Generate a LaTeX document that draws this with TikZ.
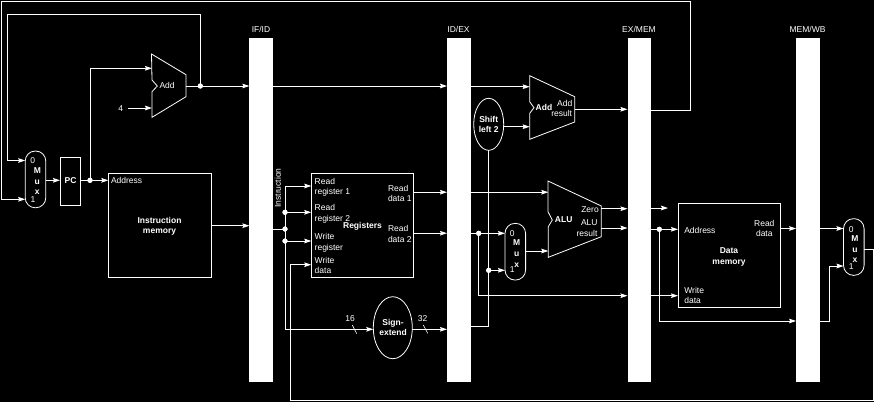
\documentclass[tikz,border=0pt]{standalone}
\usepackage{fontspec}
\setmainfont{Liberation Sans}
\usetikzlibrary{arrows.meta,shapes.geometric,calc}
\tikzset{
  wire/.style={draw=white,line width=0.9pt},
  arr/.style={wire,-{Stealth[length=7pt,width=4.6pt,inset=1pt]}},
  unit/.style={draw=white,line width=0.8pt,fill=black},
  boxnode/.style={unit,rectangle,inner sep=0pt,outer sep=0pt},
  ovalnode/.style={unit,ellipse,inner sep=0pt,outer sep=0pt},
  muxnode/.style={boxnode,minimum width=20.6pt,rounded corners=10pt},
  bar/.style={fill=white,rectangle,inner sep=0pt,outer sep=0pt,minimum width=23.6pt,minimum height=343.5pt},
  dotnode/.style={circle,fill=white,inner sep=0pt,outer sep=0pt,minimum size=5pt},
  lab/.style={text=white,inner sep=0pt,outer sep=0pt,font=\fontsize{8.5}{10}\selectfont,text height=6pt,text depth=0pt},
  labl/.style={lab,anchor=west},
  labb/.style={lab,font=\fontsize{8.5}{10}\bfseries\selectfont},
}
\begin{document}
\begin{tikzpicture}[x=1pt,y=-1pt]
\useasboundingbox (0,0) rectangle (874,402);
\fill[black] (0,0) rectangle (874,402);
% pipeline registers
\node[bar] (ifid) at (261.2,210.2) {};
\node[bar] (idex) at (458.8,210.2) {};
\node[bar] (exmem) at (639.3,210.2) {};
\node[bar] (memwb) at (807.9,210.2) {};
\node[lab] (tifid) at (261,29.5) {IF/ID};
\node[lab] (tidex) at (458.5,29.5) {ID/EX};
\node[lab] (texmem) at (639,29.5) {EX/MEM};
\node[lab] (tmemwb) at (807.5,29.5) {MEM/WB};
% boxes
\node[muxnode,minimum height=56.7pt] (muxa) at (35.5,179.4) {};
\node[boxnode,minimum width=20.7pt,minimum height=48.4pt] (pc) at (70.4,181.5) {};
\node[boxnode,minimum width=102.7pt,minimum height=104pt] (imem) at (159.7,225.3) {};
\node[boxnode,minimum width=102.4pt,minimum height=104pt] (regs) at (362.5,225.3) {};
\node[boxnode,minimum width=102pt,minimum height=104pt] (dmem) at (729,255.7) {};
\node[muxnode,minimum height=56.7pt] (muxb) at (515.3,251.7) {};
\node[muxnode,minimum height=56.7pt] (muxc) at (853.8,247) {};
\node[ovalnode,minimum width=30pt,minimum height=52pt] (shift) at (488.7,124.3) {};
\node[ovalnode,minimum width=39pt,minimum height=62pt] (sext) at (392.8,327.7) {};
% adders and ALU
\draw[unit] (151.5,54) -- (186,74.7) -- (186,96.7) -- (152,117.3) -- (152,91.7) -- (157.3,86) -- (152,80) -- cycle;
\draw[unit] (529.7,75.7) -- (574.7,96.7) -- (574.7,122) -- (529.7,139.3) -- (529.7,113.3) -- (534,107.7) -- (529.7,101.7) -- cycle;
\draw[unit] (548,181) -- (601.3,206) -- (601.3,236.7) -- (548.3,257.3) -- (548.3,226.7) -- (552.3,220) -- (548,211.7) -- cycle;
% free end points
\coordinate (addout) at (186,86);
\coordinate (addina) at (152,68.3);
\coordinate (addinb) at (152,108);
\coordinate (four) at (128,108);
\coordinate (addbin) at (529.7,86.7);
\coordinate (addbsh) at (529.7,126.7);
\coordinate (addbout) at (574.7,109.3);
\coordinate (aluina) at (548.3,192.2);
\coordinate (aluinb) at (548.3,251);
\coordinate (aluz) at (601.3,208.7);
\coordinate (alur) at (601.3,228);
% junctions
\node[dotnode] (jadd) at (200.3,86) {};
\node[dotnode] (jpc) at (90,180.3) {};
\node[dotnode] (jins) at (285,229) {};
\node[dotnode] (jrr) at (285,212.3) {};
\node[dotnode] (jwr) at (285,241) {};
\node[dotnode] (jrd) at (478.7,233.3) {};
\node[dotnode] (jsx) at (488.7,270.3) {};
\node[dotnode] (jres) at (659.3,229.3) {};
% fetch
\coordinate (loopa) at (1,1);
\coordinate (loopb) at (690,1);
\coordinate (loopc) at (690,110.5);
\coordinate (loopd) at (1,199.3);
\coordinate (innera) at (200.3,14);
\coordinate (innerb) at (7.3,14);
\coordinate (innerc) at (7.3,160.5);
\draw[wire] (exmem.east |- loopc) -- (loopc) -- (loopb) -- (loopa) -- (loopd);
\draw[arr] (loopd) -- (muxa.west |- loopd);
\draw[wire] (jadd.center) -- (innera) -- (innerb) -- (innerc);
\draw[arr] (innerc) -- (muxa.west |- innerc);
\draw[arr] (muxa.east |- jpc) -- (pc.west |- jpc);
\draw[wire] (pc.east |- jpc) -- (jpc.center);
\draw[arr] (jpc.center) -- (imem.west |- jpc);
\draw[wire] (jpc.center) -- (jpc |- addina);
\draw[arr] (jpc |- addina) -- (addina);
\node[lab] (tfour) at (120.7,108) {4};
\draw[arr] (four) -- (addinb);
\draw[wire] (addout) -- (jadd.center);
\draw[arr] (jadd.center) -- (ifid.west |- jadd);
\draw[arr] (ifid.east |- jadd) -- (idex.west |- jadd);
\coordinate (imemout) at (imem.east |- 0,225.7);
\draw[arr] (imemout) -- (ifid.west |- imemout);
% decode
\draw[wire] (ifid.east |- jins) -- (jins.center);
\coordinate (ita) at (285,186);
\coordinate (itb) at (285,329.3);
\draw[wire] (ita) -- (itb);
\draw[arr] (ita) -- (regs.west |- ita);
\draw[arr] (jrr.center) -- (regs.west |- jrr);
\draw[arr] (jwr.center) -- (regs.west |- jwr);
\draw[arr] (itb) -- (sext.west |- itb);
\coordinate (sxout) at (412.3,329.3);
\draw[arr] (sxout) -- (idex.west |- sxout);
\coordinate (slasha) at (352.3,325);
\coordinate (slashb) at (356.7,333.7);
\coordinate (slashc) at (423.3,325);
\coordinate (slashd) at (427.7,333.3);
\draw[white,line width=0.6pt] (slasha) -- (slashb);
\draw[white,line width=0.6pt] (slashc) -- (slashd);
\node[lab] (t16) at (350,318.7) {16};
\node[lab] (t32) at (422.5,318.7) {32};
\coordinate (rda) at (regs.east |- 0,192.2);
\coordinate (rdb) at (regs.east |- 0,233.2);
\draw[arr] (rda) -- (idex.west |- rda);
\draw[arr] (rdb) -- (idex.west |- rdb);
% execute
\draw[arr] (idex.east |- addbin) -- (addbin);
\draw[arr] (shift.east |- addbsh) -- (addbsh);
\coordinate (shin) at (488.7,326.7);
\draw[wire] (shift.south) -- (shin) -- (idex.east |- shin);
\draw[arr] (idex.east |- aluina) -- (aluina);
\draw[wire] (idex.east |- jrd) -- (jrd.center);
\draw[arr] (jrd.center) -- (muxb.west |- jrd);
\draw[arr] (jsx.center) -- (muxb.west |- jsx);
\coordinate (fwd) at (478.7,295.7);
\draw[wire] (jrd.center) -- (fwd);
\draw[arr] (fwd) -- (exmem.west |- fwd);
\draw[arr] (muxb.east |- aluinb) -- (aluinb);
\draw[arr] (addbout) -- (exmem.west |- addbout);
\draw[arr] (aluz) -- (exmem.west |- aluz);
\draw[arr] (alur) -- (exmem.west |- alur);
% memory
\coordinate (zout) at (668,208);
\draw[arr] (exmem.east |- zout) -- (zout);
\draw[wire] (exmem.east |- jres) -- (jres.center);
\draw[arr] (jres.center) -- (dmem.west |- jres);
\coordinate (fwdb) at (659.3,321);
\draw[wire] (jres.center) -- (fwdb);
\draw[arr] (fwdb) -- (memwb.west |- fwdb);
\draw[arr] (exmem.east |- fwd) -- (dmem.west |- fwd);
\coordinate (rdm) at (dmem.east |- 0,228.5);
\draw[arr] (rdm) -- (memwb.west |- rdm);
% write back
\draw[arr] (memwb.east |- rdm) -- (muxc.west |- rdm);
\coordinate (wba) at (829.3,321);
\coordinate (wbb) at (829.3,266);
\draw[wire] (memwb.east |- wba) -- (wba) -- (wbb);
\draw[arr] (wbb) -- (muxc.west |- wbb);
\coordinate (wbc) at (873,249);
\coordinate (wbd) at (873,400.8);
\coordinate (wbe) at (290.3,400.8);
\coordinate (wbf) at (290.3,264.7);
\draw[wire] (muxc.east |- wbc) -- (wbc) -- (wbd) -- (wbe) -- (wbf);
\draw[arr] (wbf) -- (regs.west |- wbf);
% dots on top
\foreach \d in {jadd,jpc,jins,jrr,jwr,jrd,jsx,jres} \fill[white] (\d) circle (2.6pt);
% unit labels
\node[labb] (tpc) at (70.5,180.3) {PC};
\node[lab] (ma0) at (32.8,160.7) {0};
\node[labb] (mam) at (37.3,170.7) {M};
\node[labb] (mau) at (37.3,181) {u};
\node[labb] (max) at (37.3,191.3) {x};
\node[lab] (ma1) at (33,199.3) {1};
\node[lab] (mb0) at (512.3,233.3) {0};
\node[labb] (mbm) at (516.7,242.3) {M};
\node[labb] (mbu) at (516.7,253.3) {u};
\node[labb] (mbx) at (516.7,264) {x};
\node[lab] (mb1) at (512.3,269.5) {1};
\node[lab] (mc0) at (851.3,229.3) {0};
\node[labb] (mcm) at (855,238.3) {M};
\node[labb] (mcu) at (855,249.3) {u};
\node[labb] (mcx) at (855,259.5) {x};
\node[lab] (mc1) at (851.3,266) {1};
\node[labl] (tadd) at (159.5,85.7) {Add};
\node[labl] (taddr) at (111,180) {Address};
\node[labb] (tim1) at (159.5,220.4) {Instruction};
\node[labb] (tim2) at (159.5,230.8) {memory};
\node[lab,rotate=90] (tinstr) at (277.8,188) {Instruction};
\node[labl] (r1a) at (314.7,181) {Read};
\node[labl] (r1b) at (314.7,191.7) {register 1};
\node[labl] (r2a) at (314.7,207.8) {Read};
\node[labl] (r2b) at (314.7,218.2) {register 2};
\node[labl] (wra) at (314.7,236.7) {Write};
\node[labl] (wrb) at (314.7,247) {register};
\node[labl] (wda) at (314.7,260) {Write};
\node[labl] (wdb) at (314.7,270.3) {data};
\node[labb] (tregs) at (362.5,225) {Registers};
\node[labl] (rd1a) at (388,188) {Read};
\node[labl] (rd1b) at (388,198.3) {data 1};
\node[labl] (rd2a) at (388,228.7) {Read};
\node[labl] (rd2b) at (388,239) {data 2};
\node[labb] (ts1) at (393,322) {Sign-};
\node[labb] (ts2) at (393,332.3) {extend};
\node[labb] (tsh1) at (488.7,119) {Shift};
\node[labb] (tsh2) at (488.7,129.3) {left 2};
\node[labb] (tadd2) at (544,107.3) {Add};
\node[lab] (tar1) at (564.7,103.3) {Add};
\node[lab] (tar2) at (561.7,113.7) {result};
\node[labb] (talu) at (563.7,219.3) {ALU};
\node[lab] (tzero) at (590,209) {Zero};
\node[lab] (talur1) at (589.3,222.7) {ALU};
\node[lab] (talur2) at (587,233) {result};
\node[labl] (dmaddr) at (684.3,230) {Address};
\node[labl] (dmw1) at (684.3,290) {Write};
\node[labl] (dmw2) at (684.3,300.3) {data};
\node[labb] (tdm1) at (729,250.7) {Data};
\node[labb] (tdm2) at (729,261) {memory};
\node[lab] (tdr1) at (764.3,223) {Read};
\node[lab] (tdr2) at (764.3,233.3) {data};
\end{tikzpicture}
\end{document}
